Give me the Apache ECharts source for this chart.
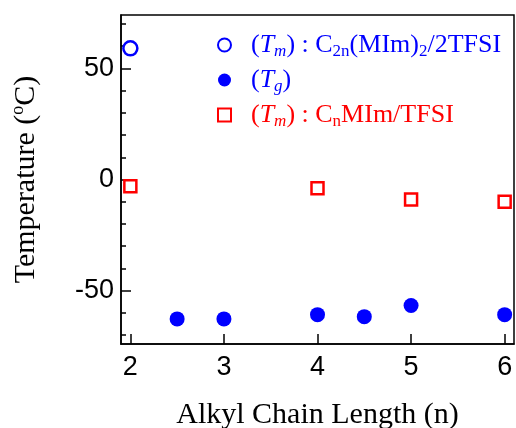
<!DOCTYPE html>
<html>
<head>
<meta charset="utf-8">
<script src="https://cdn.jsdelivr.net/npm/echarts@6/dist/echarts.min.js"></script>
<style>
  html, body { margin: 0; padding: 0; background: #fff; }
  #chart { width: 516px; height: 428px; }
</style>
</head>
<body>
<div id="chart"></div>
<script>
// (Tm) : C2n(MIm)2/2TFSI
var tmDimerX = [2]
var tmDimerY = [59]
// (Tg)
var tgX = [2.5, 3, 4, 4.5, 5, 6]
var tgY = [-62.7, -62.7, -60.8, -61.7, -56.7, -60.8]
// (Tm) : CnMIm/TFSI
var tmMonoX = [2, 4, 5, 6]
var tmMonoY = [-3.0, -3.9, -9.0, -10.0]

// ticks
var xTicks = [2, 3, 4, 5, 6]
var yTicks = [-50, 0, 50]
var yMinorTicks = [-70, -60, -40, -30, -20, -10, 10, 20, 30, 40, 60, 70]

function pairs (xs, ys) {
  return xs.map(function (x, i) { return [x, ys[i]] })
}

var blue = '#0000ff'
var red = '#ff0000'
var serif = 'Liberation Serif'
var sans = 'Liberation Sans'

// legend text, with italic T and subscripts
var legendText = {
  tmDimer: '{sp|}{bn|(}{bi|T}{bsi|m}{bn|) : C}{bs|2n}{bn|(MIm)}{bs|2}{bn|/2TFSI}',
  tg: '{sp|}{bn|(}{bi|T}{bsi|g}{bn|)}',
  tmMono: '{sp|}{rn|(}{ri|T}{rsi|m}{rn|) : C}{rs|n}{rn|MIm/TFSI}'
}

function mainStyle (color, italic) {
  return {
    color: color,
    fontFamily: serif,
    fontSize: 26,
    fontStyle: italic ? 'italic' : 'normal',
    lineHeight: 30,
    padding: [0, 0, 2, 0],
    verticalAlign: 'bottom'
  }
}
function subStyle (color, italic) {
  return {
    color: color,
    fontFamily: serif,
    fontSize: 17,
    fontStyle: italic ? 'italic' : 'normal',
    lineHeight: 17,
    verticalAlign: 'bottom'
  }
}

var myChart = echarts.init(document.getElementById('chart'))

var option = {
  backgroundColor: '#fff',
  animation: false,
  grid: {
    left: 121,
    right: 2,
    top: 15,
    bottom: 84,
    show: true,
    borderColor: '#000',
    borderWidth: 1.5,
    containLabel: false,
    outerBoundsMode: 'none'
  },
  legend: {
    orient: 'vertical',
    left: 212,
    top: 27,
    itemWidth: 13,
    itemHeight: 13,
    itemGap: 7,
    selectedMode: false,
    data: ['tmDimer', 'tg', 'tmMono'],
    formatter: function (name) { return legendText[name] },
    textStyle: {
      rich: {
        sp: { width: 15 },
        bn: mainStyle(blue, false),
        bi: mainStyle(blue, true),
        bs: subStyle(blue, false),
        bsi: subStyle(blue, true),
        rn: mainStyle(red, false),
        ri: mainStyle(red, true),
        rs: subStyle(red, false),
        rsi: subStyle(red, true)
      }
    }
  },
  xAxis: {
    type: 'value',
    min: 1.9,
    max: 6.1,
    name: 'Alkyl Chain Length (n)',
    nameLocation: 'middle',
    nameGap: 56,
    nameTextStyle: { fontFamily: serif, fontSize: 30, color: '#000' },
    axisLine: { show: true, onZero: false, lineStyle: { color: '#000', width: 1.5 } },
    axisTick: { show: true, inside: true, length: 10, customValues: xTicks, lineStyle: { color: '#000', width: 1.5 } },
    axisLabel: { customValues: xTicks, margin: 10, fontFamily: sans, fontSize: 27, color: '#000' },
    splitLine: { show: false }
  },
  yAxis: [
    {
      type: 'value',
      position: 'left',
      min: -74,
      max: 74,
      name: '{t|Temperature (}{sup|o}{t|C)}',
      nameLocation: 'middle',
      nameGap: 80,
      nameRotate: 90,
      nameTextStyle: {
        rich: {
          t: { fontFamily: serif, fontSize: 30, color: '#000', lineHeight: 32, padding: [2, 0, 0, 0], verticalAlign: 'bottom' },
          sup: { fontFamily: serif, fontSize: 18, color: '#000', lineHeight: 18, verticalAlign: 'top' }
        }
      },
      axisLine: { show: true, onZero: false, lineStyle: { color: '#000', width: 1.5 } },
      axisTick: { show: true, inside: true, length: 10, customValues: yTicks, lineStyle: { color: '#000', width: 1.5 } },
      axisLabel: { customValues: yTicks, margin: 7, fontFamily: sans, fontSize: 27, color: '#000' },
      splitLine: { show: false }
    },
    {
      // minor ticks every 10
      type: 'value',
      position: 'left',
      min: -74,
      max: 74,
      axisLine: { show: false, onZero: false },
      axisTick: { show: true, inside: true, length: 5, customValues: yMinorTicks, lineStyle: { color: '#000', width: 1.5 } },
      axisLabel: { show: false },
      splitLine: { show: false }
    }
  ],
  series: [
    {
      name: 'tmDimer',
      type: 'scatter',
      data: pairs(tmDimerX, tmDimerY),
      symbol: 'circle',
      symbolSize: 14,
      itemStyle: { color: '#fff', borderColor: blue, borderWidth: 2.5, opacity: 1 }
    },
    {
      name: 'tg',
      type: 'scatter',
      data: pairs(tgX, tgY),
      symbol: 'circle',
      symbolSize: 15,
      itemStyle: { color: blue, opacity: 1 }
    },
    {
      name: 'tmMono',
      type: 'scatter',
      data: pairs(tmMonoX, tmMonoY),
      symbol: 'rect',
      symbolSize: 12,
      itemStyle: { color: '#fff', borderColor: red, borderWidth: 2.5, opacity: 1 }
    }
  ]
}

myChart.setOption(option)
</script>
</body>
</html>
